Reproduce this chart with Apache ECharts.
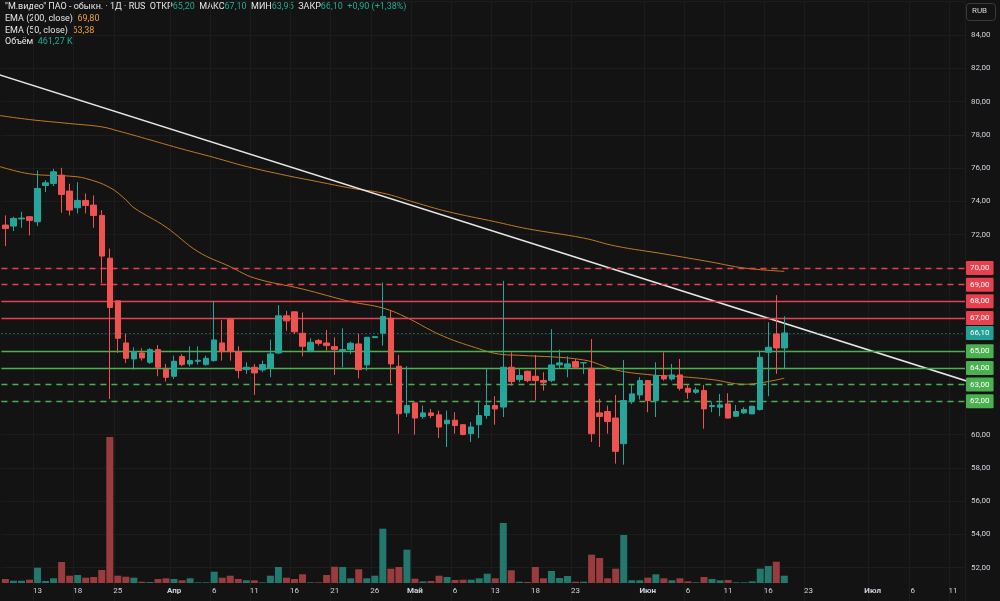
<!DOCTYPE html>
<html>
<head>
<meta charset="utf-8">
<title>М.видео 1Д</title>
<style>
  html, body { margin: 0; padding: 0; background: #131313; }
  #main { width: 1000px; height: 601px; }
</style>
<script src="https://cdn.jsdelivr.net/npm/echarts@6/dist/echarts.min.js"></script>
</head>
<body>
<div id="main"></div>
<script>
// свечи (дневки)
var priceOpen = [72.58,72.52,72.95,73.08,72.78,74.96,75.08,75.58,74.62,73.62,74.06,73.78,73.16,70.59,68.03,65.50,64.54,64.90,64.34,65.10,
  63.90,63.50,64.68,64.24,64.40,64.20,64.44,65.50,66.93,64.98,63.90,64.04,63.88,64.00,64.90,67.13,67.37,66.08,65.04,65.64,
  65.50,65.28,65.04,65.10,65.44,64.18,65.82,66.09,66.98,64.10,61.30,61.90,61.08,61.30,61.18,60.65,60.86,60.59,60.05,60.59,
  61.14,61.74,61.65,64.04,63.30,63.80,63.50,63.24,63.24,64.18,64.04,64.38,64.30,63.98,61.30,61.38,60.99,59.45,62.04,62.38,
  63.24,62.04,63.54,63.34,63.58,62.78,62.54,62.64,61.68,61.64,61.84,61.10,61.30,61.24,61.50,64.94,66.04,65.20];
var priceClose = [72.37,72.98,73.00,72.86,74.78,75.12,75.78,74.42,73.48,74.06,73.76,73.16,70.72,67.63,65.78,64.58,64.98,64.60,65.10,64.04,
  63.44,64.40,64.20,64.44,64.46,64.58,65.68,64.98,64.98,63.84,64.04,63.70,64.20,64.84,67.13,66.83,66.17,65.30,65.54,65.48,
  65.34,65.10,65.10,65.48,63.90,65.84,65.88,67.09,64.24,61.25,61.74,60.99,61.30,61.14,60.45,60.86,60.54,60.00,60.45,61.14,
  61.74,61.54,64.04,63.18,63.54,63.24,63.24,63.14,64.18,64.30,64.24,64.04,64.32,60.05,61.08,60.78,58.99,62.04,62.44,63.24,
  62.04,63.54,63.34,63.58,62.78,62.54,62.68,61.54,61.74,61.78,60.99,61.38,61.50,61.70,64.64,65.24,65.20,66.10];
var priceLow = [71.32,72.22,72.42,71.96,72.52,74.56,74.92,73.32,73.16,73.28,73.28,72.42,69.09,62.14,64.90,64.30,63.90,64.44,64.24,63.50,
  63.18,63.34,64.10,64.10,64.20,64.14,64.38,64.44,64.44,63.38,63.64,62.38,63.74,63.44,64.84,66.23,66.04,64.70,64.94,65.34,
  65.04,63.58,64.04,64.84,63.38,63.84,65.80,65.34,63.10,60.05,61.05,59.99,60.95,60.99,59.79,59.25,60.05,59.95,59.55,59.79,
  60.95,60.59,61.05,62.94,63.14,63.14,62.04,62.64,63.14,63.94,63.44,63.94,63.64,59.55,59.25,60.05,58.25,58.19,61.84,62.10,
  61.34,61.05,63.24,63.24,62.64,62.14,62.44,60.35,61.34,61.10,60.97,61.05,61.24,61.22,61.44,62.30,63.64,63.95];
var priceHigh = [73.16,73.08,73.38,73.10,75.86,75.28,75.96,76.02,75.06,75.16,74.48,74.36,73.48,71.17,68.05,66.04,65.24,65.18,65.18,65.38,
  64.24,64.74,64.84,65.30,65.30,64.74,68.03,66.87,66.98,65.30,64.34,64.24,64.44,65.70,67.77,67.43,67.40,67.33,65.78,65.74,
  66.28,65.84,66.38,65.58,66.04,65.86,65.90,69.13,67.43,64.78,64.10,61.92,61.74,61.54,61.44,61.44,61.34,60.62,60.75,61.94,
  63.94,62.30,69.23,64.94,63.94,63.84,64.78,63.74,66.33,65.10,64.70,64.54,64.34,65.74,62.14,61.74,62.38,64.48,62.98,63.44,
  63.26,64.34,64.94,64.24,64.54,63.04,62.84,62.98,61.94,62.44,62.48,61.78,61.64,61.72,65.04,66.74,68.37,67.10];

// объём, тыс. шт.
var volumeK = [253,145,145,209,967,126,297,1327,461,506,335,379,822,9227,461,398,335,82,63,253,
  297,253,171,297,44,44,714,335,461,253,171,171,44,461,1011,335,253,550,44,44,
  506,1030,1011,297,866,297,461,3432,904,1011,2105,272,107,126,461,379,190,209,209,297,
  588,297,3792,803,82,63,1011,297,758,316,442,82,82,1789,1580,297,904,3034,171,171,
  335,550,297,171,297,107,44,379,253,171,190,44,44,107,904,1074,1346,461];

// EMA: [номер бара, значение]
var ema200 = [[-1,79.18],[3,78.92],[8,78.68],[12,78.48],[14,78.24],[18,77.70],[22,77.15],[26,76.64],[30,76.10],[35,75.56],
  [39,75.18],[43,74.80],[47,74.50],[51,73.94],[55,73.40],[61,72.78],[65,72.36],[72,71.80],[76,71.32],[82,70.85],
  [88,70.35],[92,70.00],[97,69.80]];
var ema50 = [[-1,76.14],[3,75.66],[8,75.52],[10,75.38],[13,74.84],[15,74.10],[16,73.62],[20,72.46],[24,70.98],[28,70.08],
  [31,69.40],[37,68.74],[43,67.98],[47,67.60],[50,67.02],[54,66.02],[58,65.30],[62,64.80],[64,64.76],[72,64.48],
  [76,63.88],[80,63.60],[84,63.48],[88,63.30],[92,63.02],[94,63.10],[97,63.38]];

// трендовая линия
var trendLine = [[-1, 81.65], [120, 63.17]];

// уровни
var levelsRedDash = [70, 69];
var levelsRedSolid = [68, 67];
var lastPrice = 66.10;
var levelsGreenSolid = [65, 64];
var levelsGreenDash = [63, 62];

// подписи оси времени
var xLabelIdx = [4, 9, 14, 21, 26, 31, 36, 41, 46, 51, 56, 61, 66, 71, 80, 85, 90, 95, 100, 108, 113, 118];
var xLabelText = ['13', '18', '25', 'Апр', '6', '11', '16', '21', '26', 'Май', '6', '13', '18', '23', 'Июн', '6', '11', '16', '23', 'Июл', '6', '11'];
var monthNames = ['Апр', 'Май', 'Июн', 'Июл'];

var barCount = 120;
var priceMin = 50, priceMax = 86, priceStep = 2;
var volumeMax = 9480;

var UP = '#26a69a', DOWN = '#ef5350';
var RED = '#e8404f', GREEN = '#4caf50', TEAL = '#22a094';
var TXT = '#d1d4dc', FONT = 'Roboto';
var HEAD = '9px Roboto';

function fmt(v) { return v.toFixed(2).replace('.', ','); }

var cats = [], labelMap = {};
for (var i = 0; i < barCount; i++) cats.push(String(i));
for (var j = 0; j < xLabelIdx.length; j++) labelMap[xLabelIdx[j]] = xLabelText[j];

var candles = [], volumes = [];
for (var k = 0; k < priceOpen.length; k++) {
  candles.push([priceOpen[k], priceClose[k], priceLow[k], priceHigh[k]]);
  volumes.push({
    value: volumeK[k],
    itemStyle: { color: priceClose[k] >= priceOpen[k] ? '#22786c' : '#9a3b3d' }
  });
}

function level(v, color, type, w) {
  return {
    yAxis: v,
    lineStyle: { color: color, type: type, width: w },
    label: {
      show: true, position: 'end', distance: 1,
      formatter: fmt(v),
      backgroundColor: color, color: '#ffffff',
      fontFamily: FONT, fontSize: 8, lineHeight: 9,
      padding: [3, 4, 2, 4], borderRadius: 1
    }
  };
}

var levelData = [];
levelsRedDash.forEach(function (v) { levelData.push(level(v, RED, [6, 5], 1.4)); });
levelsRedSolid.forEach(function (v) { levelData.push(level(v, RED, 'solid', 1.4)); });
levelData.push(level(lastPrice, TEAL, [1, 3], 1));
levelsGreenSolid.forEach(function (v) { levelData.push(level(v, GREEN, 'solid', 1.4)); });
levelsGreenDash.forEach(function (v) { levelData.push(level(v, GREEN, [6, 5], 1.4)); });

var showLabel = function (index) { return labelMap[index] !== undefined; };

var chart = echarts.init(document.getElementById('main'));
chart.setOption({
  backgroundColor: '#131313',
  animation: false,
  grid: [
    { left: 1.4, width: 963.6, top: 1.67, height: 600 },
    { left: 1.4, width: 963.6, top: 433, height: 150 }
  ],
  xAxis: [{
    type: 'category', gridIndex: 0, data: cats,
    axisLine: { show: false }, axisTick: { show: false }, axisLabel: { show: false },
    splitLine: { show: true, interval: showLabel, lineStyle: { color: '#1c1c1c', width: 1 } }
  }, {
    type: 'category', gridIndex: 1, data: cats,
    axisLine: { show: false }, axisTick: { show: false },
    splitLine: { show: false },
    axisLabel: {
      interval: showLabel, margin: 4,
      color: TXT, fontFamily: FONT, fontSize: 8,
      formatter: function (val, idx) {
        var t = labelMap[idx];
        if (t === undefined) return '';
        return monthNames.indexOf(t) >= 0 ? '{m|' + t + '}' : t;
      },
      rich: { m: { fontWeight: 'bold', color: TXT, fontFamily: FONT, fontSize: 8 } }
    }
  }],
  yAxis: [{
    type: 'value', gridIndex: 0, position: 'right',
    min: priceMin, max: priceMax, interval: priceStep,
    axisLine: { show: false }, axisTick: { show: false },
    splitLine: { lineStyle: { color: '#1c1c1c', width: 1 } },
    axisLabel: {
      margin: 6, color: TXT, fontFamily: FONT, fontSize: 8,
      formatter: function (v) {
        if (v > 61 && v < 71) return '';
        if (v < 51 || v > 85) return '';
        return fmt(v);
      }
    }
  }, {
    type: 'value', gridIndex: 1, min: 0, max: volumeMax, show: false
  }],
  graphic: [
    {
      type: 'text', left: 5, top: 2,
      style: {
        text: '{w|"М.видео" ПАО - обыкн. · 1Д · RUS  ОТКР}{g|65,20}{w|  МАКС}{g|67,10}{w|  МИН}{g|63,95}{w|  ЗАКР}{g|66,10}{g|  +0,90 (+1,38%)}',
        font: HEAD,
        rich: { w: { fill: '#e6e6e6', font: HEAD }, g: { fill: '#22ab94', font: HEAD } }
      }
    },
    {
      type: 'text', left: 5, top: 14,
      style: {
        text: '{w|EMA (200, close)}{o|  69,80}', font: HEAD,
        rich: { w: { fill: '#e6e6e6', font: HEAD }, o: { fill: '#f0a040', font: HEAD } }
      }
    },
    {
      type: 'text', left: 5, top: 26,
      style: {
        text: '{w|EMA (50, close)}{o|  63,38}', font: HEAD,
        rich: { w: { fill: '#e6e6e6', font: HEAD }, o: { fill: '#f0a040', font: HEAD } }
      }
    },
    {
      type: 'text', left: 5, top: 37,
      style: {
        text: '{w|Объём}{g|  461,27 K}', font: HEAD,
        rich: { w: { fill: '#e6e6e6', font: HEAD }, g: { fill: '#22ab94', font: HEAD } }
      }
    },
    {
      type: 'rect', left: 966, top: 3,
      shape: { width: 29, height: 17, r: 3 },
      style: { fill: '#131313', stroke: '#3a3a3a', lineWidth: 1 }
    },
    {
      type: 'text', left: 972, top: 7,
      style: { text: 'RUB', fill: '#d1d4dc', font: '8px Roboto' }
    }
  ],
  series: [{
    name: 'Объём', type: 'bar', xAxisIndex: 1, yAxisIndex: 1,
    barWidth: 7, data: volumes, z: 1, silent: true
  }, {
    name: 'М.видео', type: 'candlestick', xAxisIndex: 0, yAxisIndex: 0,
    barWidth: 6, data: candles, z: 5,
    itemStyle: { color: UP, color0: DOWN, borderColor: UP, borderColor0: DOWN, borderWidth: 1 },
    markLine: { silent: true, symbol: ['none', 'none'], animation: false, data: levelData }
  }, {
    name: 'EMA 200', type: 'line', xAxisIndex: 0, yAxisIndex: 0,
    data: ema200, showSymbol: false, smooth: 0.4, z: 3,
    lineStyle: { color: '#c47a22', width: 1 }
  }, {
    name: 'EMA 50', type: 'line', xAxisIndex: 0, yAxisIndex: 0,
    data: ema50, showSymbol: false, smooth: 0.4, z: 3,
    lineStyle: { color: '#c47a22', width: 1 }
  }, {
    name: 'Тренд', type: 'line', xAxisIndex: 0, yAxisIndex: 0,
    data: trendLine, showSymbol: false, z: 4,
    lineStyle: { color: '#e6e6e6', width: 1.5 }
  }]
});
</script>
</body>
</html>
